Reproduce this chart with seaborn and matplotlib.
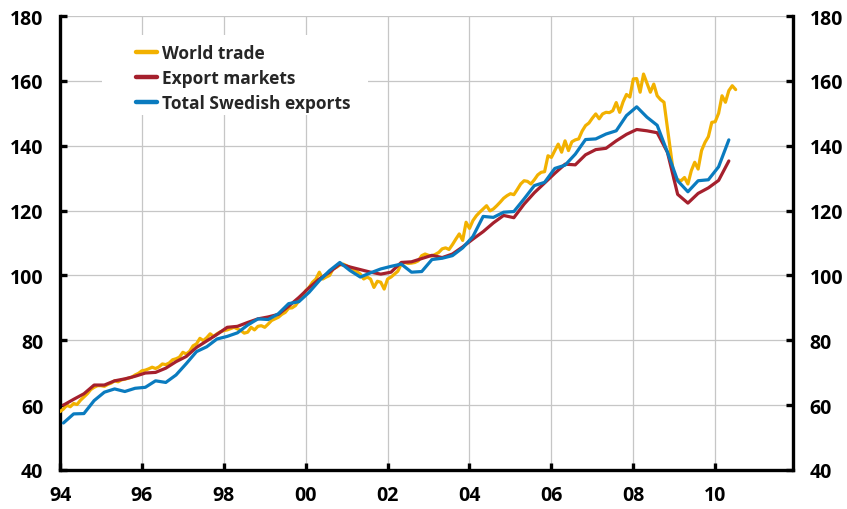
import numpy as np
import pandas as pd
import matplotlib
matplotlib.use("Agg")
import matplotlib.pyplot as plt
import seaborn as sns
from matplotlib.patches import Rectangle

# ---------------- data ----------------
series_names = ["World trade", "Export markets", "Total Swedish exports"]
x_tick_years = [1994, 1996, 1998, 2000, 2002, 2004, 2006, 2008, 2010]
x_tick_labels = ["94", "96", "98", "00", "02", "04", "06", "08", "10"]
y_ticks = [40, 60, 80, 100, 120, 140, 160, 180]

# monthly, Jan 1994 - Jul 2010
world_trade = [
    58.0, 58.8, 60.0, 59.5, 60.5, 60.2, 61.5, 62.5, 63.5, 64.8, 65.5, 66.0,   # 1994
    66.0, 65.8, 66.4, 66.8, 67.5, 67.2, 67.8, 68.0, 68.3, 68.6, 69.3, 69.8,   # 1995
    70.6, 70.8, 71.2, 71.7, 71.3, 71.8, 72.7, 72.5, 73.0, 74.0, 74.3, 74.8,   # 1996
    76.3, 75.8, 76.6, 78.3, 78.9, 80.6, 79.9, 80.8, 82.0, 81.2, 82.0, 82.6,   # 1997
    83.0, 83.2, 83.6, 84.0, 83.5, 83.0, 82.2, 82.5, 84.0, 83.2, 84.3, 84.5,   # 1998
    84.0, 85.0, 86.1, 86.6, 87.1, 88.0, 88.6, 89.9, 90.0, 90.7, 92.2, 93.3,   # 1999
    95.3, 96.3, 97.9, 98.9, 101.0, 98.9, 99.5, 100.0, 102.0, 102.5, 103.2, 103.5,  # 2000
    103.0, 102.4, 101.8, 101.2, 100.4, 98.9, 99.5, 98.9, 96.3, 98.2, 97.9, 95.8,  # 2001
    98.9, 99.5, 100.4, 101.3, 103.5, 104.0, 103.7, 103.8, 104.0, 104.5, 106.1, 106.6,  # 2002
    106.2, 106.0, 106.5, 107.1, 108.2, 108.5, 108.0, 109.5, 111.2, 112.8, 110.8, 116.4,  # 2003
    114.5, 116.9, 118.4, 119.5, 120.5, 121.5, 119.9, 120.5, 121.5, 122.6, 123.8, 124.6,  # 2004
    125.2, 124.9, 126.5, 128.2, 129.2, 129.0, 128.2, 129.5, 131.0, 131.8, 132.0, 136.9,  # 2005
    136.4, 138.5, 140.5, 138.0, 141.5, 138.5, 141.2, 141.8, 142.1, 144.5, 146.2, 147.0,  # 2006
    148.5, 149.8, 148.3, 149.8, 150.3, 150.2, 150.8, 153.3, 150.3, 153.5, 155.8, 155.0,  # 2007
    160.6, 160.7, 156.5, 162.1, 159.3, 156.5, 159.0, 155.4, 154.2, 153.4, 145.5, 137.5,  # 2008
    129.7, 129.5, 129.2, 130.2, 128.2, 132.3, 134.9, 132.8, 138.5, 141.0, 142.8, 147.2,  # 2009
    147.4, 150.0, 155.4, 153.4, 157.0, 158.5, 157.3,                                     # 2010
]

# quarterly, Q1 1994 - Q2 2010
export_markets = [
    60.0, 61.8, 63.5, 66.2,      # 1994
    66.2, 67.5, 68.1, 68.9,      # 1995
    69.9, 70.1, 71.4, 73.4,      # 1996
    75.0, 77.8, 79.8, 81.8,      # 1997
    84.0, 84.3, 85.5, 86.6,      # 1998
    87.2, 88.0, 90.5, 93.2,      # 1999
    96.2, 98.9, 101.0, 103.5,    # 2000
    102.6, 101.8, 101.0, 100.4,  # 2001
    101.0, 104.0, 104.2, 105.2,  # 2002
    106.2, 105.5, 106.6, 108.8,  # 2003
    111.2, 113.5, 116.2, 118.5,  # 2004
    117.8, 122.0, 125.5, 128.5,  # 2005
    131.5, 134.3, 134.1, 137.2,  # 2006
    138.8, 139.2, 141.5, 143.5,  # 2007
    145.0, 144.6, 144.0, 138.0,  # 2008
    125.0, 122.3, 125.3, 127.0,  # 2009
    129.3, 135.3,                # 2010
]

swedish_exports = [
    54.5, 57.3, 57.4, 61.4,      # 1994
    64.0, 65.0, 64.2, 65.2,      # 1995
    65.5, 67.5, 67.0, 69.3,      # 1996
    72.8, 76.5, 78.0, 80.4,      # 1997
    81.2, 82.3, 84.7, 86.6,      # 1998
    86.4, 88.2, 91.3, 91.9,      # 1999
    94.8, 98.4, 101.5, 104.0,    # 2000
    101.5, 99.5, 100.8, 102.0,   # 2001
    102.8, 103.5, 101.0, 101.2,  # 2002
    104.9, 105.3, 106.1, 108.5,  # 2003
    112.0, 118.2, 117.9, 119.5,  # 2004
    119.7, 123.6, 127.7, 128.7,  # 2005
    133.0, 134.0, 137.4, 141.9,  # 2006
    142.1, 143.6, 144.6, 149.3,  # 2007
    152.0, 148.8, 146.3, 138.0,  # 2008
    129.2, 125.8, 129.2, 129.5,  # 2009
    133.5, 141.8,                # 2010
]

colors = {"World trade": "#F2B100",
          "Export markets": "#A5202D",
          "Total Swedish exports": "#0A7BBF"}

# decimal-year positions from the sampling frequency
month_x = 1994 + np.arange(len(world_trade)) / 12.0
quarter_x = 1994 + 1 / 12.0 + np.arange(len(export_markets)) * 0.25

df_w = pd.DataFrame({"x": month_x, "y": world_trade, "series": series_names[0]})
df_e = pd.DataFrame({"x": quarter_x, "y": export_markets, "series": series_names[1]})
df_s = pd.DataFrame({"x": quarter_x[:len(swedish_exports)], "y": swedish_exports,
                     "series": series_names[2]})

# ---------------- style ----------------
sns.set_theme(style="white")
plt.rcParams["font.family"] = ["Open Sans", "DejaVu Sans"]
plt.rcParams["font.weight"] = "bold"

W, H = 847, 510
fig = plt.figure(figsize=(W / 100, H / 100), dpi=100)
L, R, T, B = 60, 793, 17, 471
ax = fig.add_axes([L / W, 1 - B / H, (R - L) / W, (B - T) / H])

lw = 2.3
for d in (df_w, df_e, df_s):
    name = d["series"].iloc[0]
    sns.lineplot(data=d, x="x", y="y", ax=ax, color=colors[name], lw=lw,
                 label=name, estimator=None, sort=False, zorder=3)

ax.set_xlim(1994, 2011.9)
ax.set_ylim(40, 180)
ax.set_xticks(x_tick_years)
ax.set_xticklabels(x_tick_labels)
ax.set_yticks(y_ticks)
ax.set_xlabel("")
ax.set_ylabel("")

ax.set_axisbelow(True)
ax.grid(True, color="#c6c6c6", lw=0.9)

for s in ["left", "right", "bottom"]:
    ax.spines[s].set_visible(True)
    ax.spines[s].set_color("black")
    ax.spines[s].set_linewidth(2.4)
ax.spines["top"].set_visible(False)

ax.tick_params(axis="y", which="both", direction="in", length=5, width=2.4,
               left=True, right=True, labelleft=True, labelright=True,
               pad=12, labelsize=14, colors="black")
ax.tick_params(axis="x", direction="in", length=5, width=2.4, bottom=True,
               pad=11, labelsize=14, colors="black")
for t in ax.yaxis.get_major_ticks():
    t.label1.set_fontweight("bold")
    t.label2.set_fontweight("bold")
for t in ax.xaxis.get_major_ticks():
    t.label1.set_fontweight("bold")

# white box behind the legend (hides gridlines)
bx0, by0, bx1, by1 = 102, 36, 368, 116
ax.add_patch(Rectangle(((bx0 - L) / (R - L), 1 - (by1 - T) / (B - T)),
                       (bx1 - bx0) / (R - L), (by1 - by0) / (B - T),
                       transform=ax.transAxes, facecolor="white",
                       edgecolor="none", zorder=1))

leg = ax.legend(loc="upper left",
                bbox_to_anchor=((127 - L) / (R - L), 1 - (36 - T) / (B - T)),
                frameon=False, borderpad=0, handlelength=1.2,
                handletextpad=0.3, labelspacing=0.42,
                prop={"size": 12.5, "weight": "bold"})
for h in leg.legend_handles:
    h.set_linewidth(3.2)

fig.savefig("out.png", dpi=100, facecolor="white")
